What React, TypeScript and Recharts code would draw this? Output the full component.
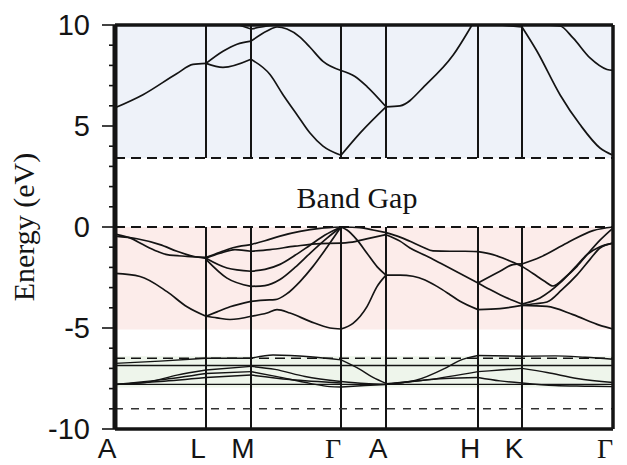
import { LineChart, Line, XAxis, YAxis, ReferenceLine, ReferenceArea } from 'recharts';

const kTicks = [0, 91, 136, 226, 271, 363, 407, 498];
const kLabels = ['A', 'L', 'M', 'Γ', 'A', 'H', 'K', 'Γ'];
const eTicks = [-10, -9, -8, -7, -6, -5, -4, -3, -2, -1, 0, 1, 2, 3, 4, 5, 6, 7, 8, 9, 10];

// conduction bands, [k, E]
const c1 = [[0, 5.9], [28, 6.55], [62, 7.6], [78, 8.05], [91, 8.1], [108, 7.9], [136, 8.3], [155, 7.55], [168, 6.55], [182, 5.56], [195, 4.65], [208, 4.0], [226, 3.55], [245, 4.65], [271, 5.95], [285, 6.0], [312, 7.1], [338, 8.5], [357, 10]];
const c2 = [[91, 8.1], [108, 8.7], [122, 9.05], [136, 9.2], [152, 9.7], [162, 9.9], [172, 9.8], [185, 9.4], [195, 8.9], [208, 8.2], [226, 7.75], [240, 7.45], [252, 6.95], [271, 5.95]];
const c3 = [[124, 10], [136, 9.8], [152, 9.95], [160, 10]];
const c4 = [[385, 10], [407, 9.9], [422, 8.7], [445, 6.55], [465, 5.07], [485, 3.91], [498, 3.55]];
const c5 = [[430, 10], [445, 9.95], [458, 9.36], [475, 8.37], [492, 7.8], [498, 7.75]];

// valence bands
const v1 = [[0, -0.35], [15, -0.54], [28, -0.87], [42, -1.2], [52, -1.37], [72, -1.45], [91, -1.5], [105, -1.25], [120, -1.0], [136, -0.87], [150, -0.68], [165, -0.45], [185, -0.22], [205, -0.07], [226, 0], [245, -0.03], [258, -0.15], [271, -0.28], [285, -0.5], [295, -0.71], [308, -1.0], [318, -1.18], [335, -1.2], [350, -1.2], [363, -1.22], [378, -1.37], [392, -1.62], [407, -1.95], [418, -2.3], [430, -2.7], [438, -2.92], [450, -2.5], [462, -1.95], [472, -1.37], [485, -0.65], [498, -0.05]];
const v2 = [[0, -0.45], [22, -0.58], [45, -0.87], [62, -1.2], [78, -1.45], [91, -1.55], [105, -1.3], [120, -1.12], [136, -1.2], [155, -1.12], [180, -0.95], [205, -0.82], [226, -0.8], [240, -0.72], [255, -0.55], [271, -0.38], [285, -0.7], [295, -1.04], [310, -1.4], [328, -1.86], [345, -2.3], [363, -2.77], [375, -3.1], [385, -3.35], [396, -3.6], [407, -3.81], [425, -3.51], [445, -2.77], [460, -2.0], [472, -1.37], [485, -0.98], [498, -0.8]];
const v3 = [[91, -1.55], [112, -2.03], [136, -2.19], [150, -2.1], [165, -1.85], [180, -1.4], [195, -0.9], [210, -0.4], [226, 0], [232, -0.15], [242, -0.64], [252, -1.3], [262, -1.96], [271, -2.38], [285, -2.38], [298, -2.44], [310, -2.62], [322, -2.94], [335, -3.35], [345, -3.68], [363, -4.09], [385, -4.04], [407, -3.88], [432, -3.93], [458, -4.34], [485, -4.87], [498, -5.05]];
const v4 = [[91, -1.6], [112, -2.53], [136, -2.94], [150, -2.9], [165, -2.6], [180, -2.0], [195, -1.3], [212, -0.55], [226, 0]];
const v5 = [[0, -2.3], [25, -2.45], [52, -3.2], [72, -3.95], [91, -4.42], [102, -4.5], [115, -4.58], [136, -4.42], [152, -4.26], [162, -4.09], [175, -4.26], [195, -4.67], [215, -5.0], [226, -5.05], [238, -4.77], [252, -3.94], [262, -2.95], [271, -2.38]];
const v6 = [[91, -4.42], [102, -4.2], [115, -3.95], [136, -3.68], [150, -3.62], [160, -3.6], [172, -3.3], [185, -2.7], [198, -1.95], [212, -1.0], [226, 0]];
const v7 = [[363, -2.77], [385, -2.19], [398, -1.86], [407, -1.83], [425, -1.5], [452, -0.79], [478, -0.18], [498, 0]];
const v8 = [[407, -3.88], [420, -3.8], [432, -3.71], [447, -3.1], [462, -2.37], [475, -1.6], [485, -1.04], [498, -0.8]];

// semicore bands around -7 eV
const w1 = [[0, -6.75], [45, -6.64], [91, -6.5], [136, -6.5], [158, -6.34], [195, -6.42], [226, -6.58], [245, -7.05], [258, -7.45], [271, -7.74]];
const w2 = [[0, -6.86], [91, -6.86], [136, -6.86], [226, -6.86], [271, -6.86], [363, -6.86], [407, -6.86], [498, -6.86]];
const w3 = [[0, -7.79], [91, -7.79], [136, -7.79], [226, -7.79], [271, -7.79], [363, -7.79], [407, -7.79], [498, -7.79]];
const w4 = [[0, -7.79], [30, -7.7], [62, -7.33], [91, -7.08], [136, -6.9], [160, -7.05], [190, -7.4], [226, -7.65], [250, -7.75], [271, -7.79]];
const w5 = [[0, -7.79], [45, -7.57], [91, -7.25], [136, -7.16], [162, -7.41], [195, -7.74], [215, -7.9], [226, -7.92], [250, -7.85], [271, -7.8]];
const w6 = [[0, -7.8], [45, -7.65], [91, -7.45], [136, -7.33], [175, -7.55], [226, -7.72]];
const w7 = [[271, -7.76], [300, -7.6], [330, -7.0], [345, -6.6], [363, -6.36], [407, -6.4], [440, -6.38], [470, -6.45], [498, -6.55]];
const w8 = [[271, -7.79], [312, -7.57], [363, -7.16], [385, -7.08], [407, -7.0], [432, -7.2], [462, -7.5], [498, -7.7]];
const w9 = [[271, -7.79], [330, -7.5], [363, -7.45], [385, -7.62], [407, -7.72], [440, -7.85], [470, -7.88], [498, -7.9]];

const upperBands = [c1, c2, c3, c4, c5, v1, v2, v3, v4, v5, v6, v7, v8];
const lowerBands = [w1, w2, w3, w4, w5, w6, w7, w8, w9];

const SANS = 'Liberation Sans, Arial, sans-serif';
const SERIF = 'Liberation Serif, Times New Roman, serif';
const INK = '#141414';

// cut a band at the high-symmetry points so it can kink there
function segments(band: number[][]) {
  const out: { k: number; e: number }[][] = [];
  let cur: { k: number; e: number }[] = [];
  band.forEach(([k, e], i) => {
    cur.push({ k, e });
    if (i > 0 && i < band.length - 1 && kTicks.includes(k)) {
      out.push(cur);
      cur = [{ k, e }];
    }
  });
  out.push(cur);
  return out;
}

function KTick({ x, y, payload }: any) {
  const lab = kLabels[kTicks.indexOf(payload.value)];
  return (
    <text x={x - 8} y={y + 29} textAnchor="middle" fontSize={28} fill={INK}
      fontFamily={lab === 'Γ' ? SERIF : SANS}>
      {lab}
    </text>
  );
}

function ETick({ x, y, payload }: any) {
  const major = payload.value % 5 === 0;
  return (
    <g>
      <line x1={x - (major ? 13 : 6)} x2={x} y1={y} y2={y} stroke={INK} strokeWidth={1.6} />
      {major && (
        <text x={x - 25} y={y} dy={10} textAnchor="end" fontSize={29} fontFamily={SANS} fill={INK}>
          {payload.value}
        </text>
      )}
    </g>
  );
}

export default function App() {
  const inner = kTicks.slice(1, -1);
  return (
    <div style={{ position: 'absolute', left: 0, top: 0, width: 627, height: 465, background: '#fff' }}>
      <LineChart width={627} height={465} margin={{ top: 25, right: 14, bottom: 0, left: 0 }}>
        <XAxis type="number" dataKey="k" domain={[0, 498]} ticks={kTicks} interval={0}
          height={36} axisLine={false} tickLine={false} tickSize={0} tickMargin={0} tick={<KTick />} />
        <YAxis type="number" domain={[-10, 10]} ticks={eTicks} interval={0} width={115}
          axisLine={false} tickLine={false} tickSize={0} tickMargin={0} tick={<ETick />}
          label={{ value: 'Energy (eV)', angle: -90, position: 'insideLeft', offset: 23,
            style: { textAnchor: 'middle', fontFamily: SERIF, fontSize: 30, fill: INK } }} />

        <ReferenceArea y1={3.42} y2={10} fill="#eef2f9" fillOpacity={1} stroke="none" />
        <ReferenceArea y1={-5.08} y2={0} fill="#fcecea" fillOpacity={1} stroke="none" />
        <ReferenceArea y1={-7.95} y2={-6.4} fill="#eef5eb" fillOpacity={1} stroke="none" />

        {inner.map((k) => (
          <ReferenceLine key={`lo${k}`} segment={[{ x: k, y: -10 }, { x: k, y: 0 }]} stroke={INK} strokeWidth={2} />
        ))}
        {inner.map((k) => (
          <ReferenceLine key={`hi${k}`} segment={[{ x: k, y: 3.42 }, { x: k, y: 10 }]} stroke={INK} strokeWidth={2} />
        ))}

        <ReferenceLine y={3.42} stroke={INK} strokeWidth={2} strokeDasharray="10 6" />
        <ReferenceLine y={0} stroke={INK} strokeWidth={1.8} strokeDasharray="10 6" />
        <ReferenceLine y={-6.5} stroke={INK} strokeWidth={1.6} strokeDasharray="10 6" />
        <ReferenceLine y={-9} stroke="#333" strokeWidth={1.4} strokeDasharray="8 8" />

        <ReferenceLine y={1.46} stroke="none"
          label={{ value: 'Band Gap', position: 'center', dx: -7, fontSize: 30, fontFamily: SERIF, fill: INK }} />

        {upperBands.flatMap((band, bi) =>
          segments(band).map((seg, si) => (
            <Line key={`u${bi}-${si}`} data={seg} dataKey="e" type="monotone" stroke={INK}
              strokeWidth={1.7} dot={false} activeDot={false} isAnimationActive={false} />
          ))
        )}
        {lowerBands.flatMap((band, bi) =>
          segments(band).map((seg, si) => (
            <Line key={`w${bi}-${si}`} data={seg} dataKey="e" type="monotone" stroke={INK}
              strokeWidth={1.4} dot={false} activeDot={false} isAnimationActive={false} />
          ))
        )}

        <ReferenceLine x={0} stroke={INK} strokeWidth={5} />
        <ReferenceLine x={498} stroke={INK} strokeWidth={3.5} />
        <ReferenceLine y={10} stroke={INK} strokeWidth={3.5} />
        <ReferenceLine y={-10} stroke={INK} strokeWidth={3.5} />
      </LineChart>
    </div>
  );
}
